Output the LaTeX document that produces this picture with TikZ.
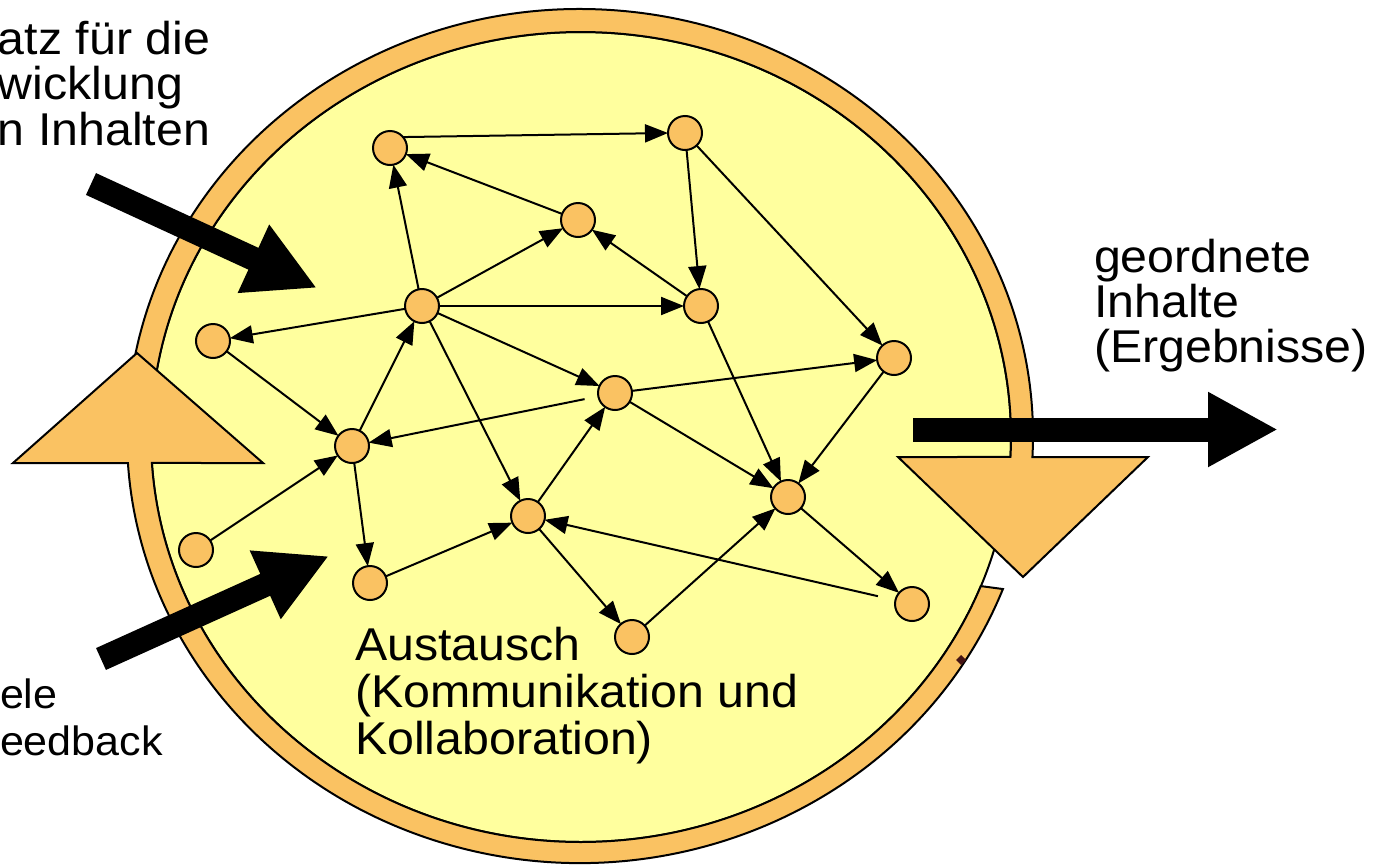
\documentclass[tikz,border=0pt]{standalone}
\usepackage{fontspec}
\setmainfont{Liberation Sans}[FakeStretch=1.05]
\usetikzlibrary{arrows.meta,calc}
\definecolor{discyellow}{RGB}{255,255,158}
\definecolor{ringorange}{RGB}{250,194,98}
\definecolor{speck}{RGB}{70,20,20}
\begin{document}
\begin{tikzpicture}[x=1pt,y=-1pt,
  dot/.style={circle,draw=black,line width=2pt,fill=ringorange,minimum size=34pt,inner sep=0pt,outer sep=0pt},
  link/.style={draw=black,line width=2pt,-{Triangle[length=23pt 0 0,width=18pt 0 0]}},
  bigarrow/.style={draw=black,line width=24pt,-{Triangle[length=70pt 0 0,width=70pt 0 0]}},
  ringpart/.style={fill=ringorange,draw=black,line width=2pt,line join=miter},
  lbl/.style={font=\fontsize{46}{47}\selectfont,inner sep=0pt,outer sep=0pt},
  lblsmall/.style={font=\fontsize{41}{47}\selectfont,inner sep=0pt,outer sep=0pt}
]
\useasboundingbox (0,0) rectangle (1376,865);
\coordinate (co) at (580,436);
\coordinate (ci) at (581,437);
% yellow disc
\filldraw[fill=discyellow,draw=black,line width=2pt] (ci) ellipse [x radius=430,y radius=405];
% upper ring arrow (ends in the downward head on the right)
\path[ringpart] ($(co)+(186.5:453 and 427)$) arc[start angle=186.5,end angle=362.82,x radius=453,y radius=427]
  -- (1148,457) -- (1023,577) -- (898,457)
  -- ($(ci)+(2.83:430 and 405)$) arc[start angle=2.83,end angle=-173,x radius=430,y radius=405] -- cycle;
% lower ring arrow (ends in the upward head on the left)
\path[ringpart] (13,463) -- (137,353) -- (263,463)
  -- ($(ci)+(176.32:430 and 405)$) arc[start angle=176.32,end angle=21.6,x radius=430,y radius=405]
  -- ($(co)+(21.0:453 and 427)$) arc[start angle=21.0,end angle=176.37,x radius=453,y radius=427] -- cycle;
\fill[speck] (961,655) -- (966,660) -- (961,665) -- (956,660) -- cycle;
% network nodes
\node[dot] (n1) at (390,148) {};
\node[dot] (n2) at (685,133) {};
\node[dot] (n3) at (578,220) {};
\node[dot] (n4) at (422,306) {};
\node[dot] (n5) at (701,306) {};
\node[dot] (n6) at (213,341) {};
\node[dot] (n7) at (894,358) {};
\node[dot] (n8) at (615,393) {};
\node[dot] (n9) at (352,446) {};
\node[dot] (n10) at (788,497) {};
\node[dot] (n11) at (528,516) {};
\node[dot] (n12) at (196,550) {};
\node[dot] (n13) at (370,583) {};
\node[dot] (n14) at (632,637) {};
\node[dot] (n15) at (912,604) {};
% connectors
\draw[link] (n1.40) -- (n2.west);
\draw[link] (n3) -- (n1);
\draw[link] (n4) -- (n1);
\draw[link] (n4) -- (n3);
\draw[link] (n5) -- (n3);
\draw[link] (n2) -- (n5);
\draw[link] (n2) -- (n7);
\draw[link] (n4) -- (n5);
\draw[link] (n4) -- (n6);
\draw[link] (n4) -- (n8);
\draw[link] (n4) -- (n11);
\draw[link] (n9) -- (n4);
\draw[link] (n6) -- (n9);
\draw[link] (n12) -- (n9);
\draw[link,shorten <=14pt] (n8) -- (n9);
\draw[link] (n9) -- (n13);
\draw[link] (n13) -- (n11);
\draw[link] (n11) -- (n8);
\draw[link] (n8) -- (n7);
\draw[link] (n8) -- (n10);
\draw[link] (n5) -- (n10);
\draw[link] (n7) -- (n10);
\draw[link] (n10) -- (n15);
\draw[link,shorten <=18pt] (n15) -- (n11);
\draw[link] (n11) -- (n14);
\draw[link] (n14) -- (n10);
% big black arrows
\coordinate (ba1s) at (91,184); \coordinate (ba1e) at (317,288);
\coordinate (ba2s) at (101,659); \coordinate (ba2e) at (329,556);
\coordinate (ba3s) at (913,429.5); \coordinate (ba3e) at (1278,429.5);
\draw[bigarrow] (ba1s) -- (ba1e);
\draw[bigarrow] (ba2s) -- (ba2e);
\draw[bigarrow] (ba3s) -- (ba3e);
% texts
\node[lbl,anchor=base west] (t1a) at (-2,54) {atz für die};
\node[lbl,anchor=base west] (t1b) at (-2,99) {wicklung};
\node[lbl,anchor=base west] (t1c) at (-2,145) {n Inhalten};
\node[lblsmall,anchor=base west] (t2a) at (0,708) {ele};
\node[lblsmall,anchor=base west] (t2b) at (0,755) {eedback};
\node[lbl,anchor=base west] (t3a) at (355,660) {Austausch};
\node[lbl,anchor=base west] (t3b) at (355,707) {(Kommunikation und};
\node[lbl,anchor=base west] (t3c) at (355,754) {Kollaboration)};
\node[lbl,anchor=base west] (t4a) at (1094,272) {geordnete};
\node[lbl,anchor=base west] (t4b) at (1094,317) {Inhalte};
\node[lbl,anchor=base west] (t4c) at (1094,362) {(Ergebnisse)};
\end{tikzpicture}
\end{document}
